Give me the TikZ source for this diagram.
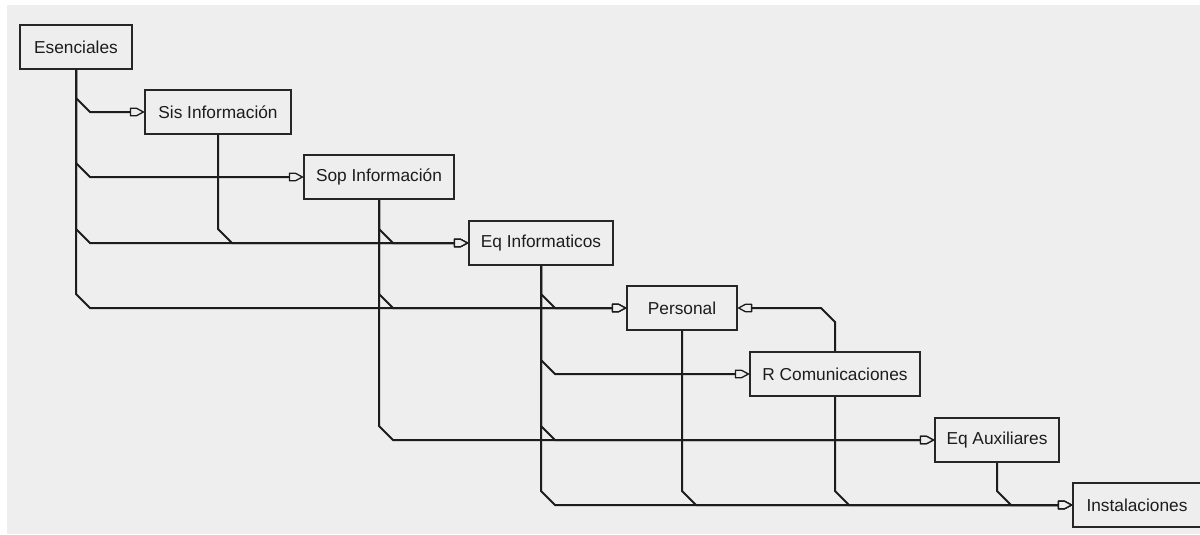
\documentclass[tikz,border=0pt]{standalone}
\usepackage{fontspec}
\setmainfont{Liberation Sans}
\definecolor{bg}{HTML}{EEEEEE}
\definecolor{ink}{HTML}{1C1C1C}
\definecolor{frame}{HTML}{262626}

% hollow tag-shaped arrow tip, filled with the canvas colour
\pgfdeclarearrow{
  name = Tag,
  setup code = {
    \pgfarrowssettipend{0.6pt}
    \pgfarrowssetlineend{-12pt}
    \pgfarrowssetbackend{-13.6pt}
    \pgfarrowshullpoint{0.6pt}{0pt}
    \pgfarrowshullpoint{-13.6pt}{4.4pt}
    \pgfarrowshullpoint{-13.6pt}{-4.4pt}
  },
  drawing code = {
    \pgfsetlinewidth{1.3pt}
    \pgfsetroundjoin
    \pgfpathmoveto{\pgfpoint{0pt}{0pt}}
    \pgfpathlineto{\pgfpoint{-7pt}{3.8pt}}
    \pgfpathlineto{\pgfpoint{-13pt}{3.8pt}}
    \pgfpathlineto{\pgfpoint{-13pt}{-3.8pt}}
    \pgfpathlineto{\pgfpoint{-7pt}{-3.8pt}}
    \pgfpathclose
    \pgfsetfillcolor{bg}
    \pgfusepathqfillstroke
  }
}

\tikzset{
  box/.style={draw=frame, line width=2pt, fill=bg, text=ink, inner sep=0pt,
    minimum height=44pt, font=\fontsize{17.3}{20}\selectfont},
  link/.style={draw=ink, line width=2pt, -Tag},
  branch/.style={to path={(\tikztostart) -- ([yshift=14pt]\tikztostart |- \tikztotarget)
    -- ([xshift=14pt]\tikztostart |- \tikztotarget) -- (\tikztotarget)}},
  branch up/.style={to path={(\tikztostart) -- ([yshift=-14pt]\tikztostart |- \tikztotarget)
    -- ([xshift=-14pt]\tikztostart |- \tikztotarget) -- (\tikztotarget)}},
}

\begin{document}
\begin{tikzpicture}[x=1pt, y=-1pt]
  \useasboundingbox (0,0) rectangle (1200,535);
  \fill[white] (0,0) rectangle (1200,535);
  \fill[bg] (7,5) rectangle (1200,534);

  % modules
  \node[box, minimum width=112pt] (ese)  at (76,47)    {Esenciales};
  \node[box, minimum width=146pt] (sis)  at (218,112)  {Sis Información};
  \node[box, minimum width=150pt] (sop)  at (379,177)  {Sop Información};
  \node[box, minimum width=144pt] (eqi)  at (541,243)  {Eq Informaticos};
  \node[box, minimum width=110pt] (pers) at (682,308)  {Personal};
  \node[box, minimum width=170pt] (rcom) at (835,374)  {R Comunicaciones};
  \node[box, minimum width=124pt] (eqa)  at (997,440)  {Eq Auxiliares};
  \node[box, minimum width=128pt] (inst) at (1137,505) {Instalaciones};

  % dependencies
  \draw[link] (ese.south) to[branch] (sis.west);
  \draw[link] (ese.south) to[branch] (sop.west);
  \draw[link] (ese.south) to[branch] (eqi.west);
  \draw[link] (ese.south) to[branch] (pers.west);

  \draw[link] (sis.south) to[branch] (eqi.west);

  \draw[link] (sop.south) to[branch] (eqi.west);
  \draw[link] (sop.south) to[branch] (pers.west);
  \draw[link] (sop.south) to[branch] (eqa.west);

  \draw[link] (eqi.south) to[branch] (pers.west);
  \draw[link] (eqi.south) to[branch] (rcom.west);
  \draw[link] (eqi.south) to[branch] (eqa.west);
  \draw[link] (eqi.south) to[branch] (inst.west);

  \draw[link] (pers.south) to[branch] (inst.west);

  \draw[link] (rcom.north) to[branch up] (pers.east);
  \draw[link] (rcom.south) to[branch] (inst.west);

  \draw[link] (eqa.south) to[branch] (inst.west);
\end{tikzpicture}
\end{document}
